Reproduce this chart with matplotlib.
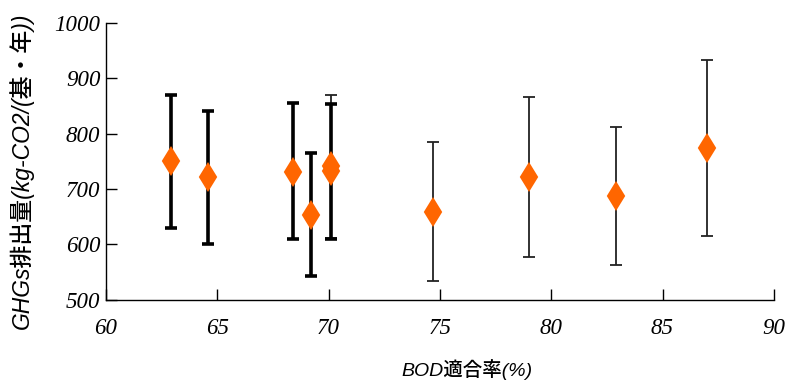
import matplotlib.pyplot as plt
import numpy as np

# BOD適合率(%) と GHGs排出量 (平均, 下限, 上限)
# 太い誤差棒の系列
bod_a = [62.9, 64.6, 68.4, 69.2, 70.1]
ghg_a = [750, 722, 731, 654, 733]
low_a = [630, 601, 610, 543, 610]
high_a = [871, 842, 856, 766, 853]

# 細い誤差棒の系列
bod_b = [70.1, 74.7, 79.0, 82.9, 87.0]
ghg_b = [742, 658, 721, 688, 775]
low_b = [612, 533, 577, 562, 615]
high_b = [871, 785, 866, 813, 933]

x_ticks = [60, 65, 70, 75, 80, 85, 90]
y_ticks = [500, 600, 700, 800, 900, 1000]

label_font = ["Liberation Sans", "Noto Sans CJK JP"]
tick_font = "Liberation Serif"

fig = plt.figure(figsize=(7.88, 3.83), dpi=100)
ax = fig.add_axes([0.1345, 0.2175, 0.8475, 0.722])


def _yerr(mean, low, high):
    mean = np.array(mean)
    return [mean - np.array(low), np.array(high) - mean]


ax.errorbar(bod_b, ghg_b, yerr=_yerr(ghg_b, low_b, high_b), fmt="none",
            ecolor="#222222", elinewidth=1.3, capsize=4, capthick=1.3, zorder=2)
ax.errorbar(bod_a, ghg_a, yerr=_yerr(ghg_a, low_a, high_a), fmt="none",
            ecolor="black", elinewidth=2.6, capsize=4.5, capthick=2.6, zorder=2)
ax.plot(bod_a + bod_b, ghg_a + ghg_b, linestyle="none", marker="d",
        markersize=13.5, markeredgewidth=1.5, color="#FF6600", zorder=3)

ax.set_xlim(60, 90)
ax.set_ylim(500, 1000)
ax.set_xticks(x_ticks)
ax.set_yticks(y_ticks)
ax.tick_params(axis="both", direction="in", length=8, width=1)
ax.tick_params(axis="x", pad=13)
ax.tick_params(axis="y", pad=4)
for lab in ax.get_xticklabels() + ax.get_yticklabels():
    lab.set_fontfamily(tick_font)
    lab.set_fontstyle("italic")
    lab.set_fontsize(16.5)

for side in ("top", "right"):
    ax.spines[side].set_visible(False)
for side in ("left", "bottom"):
    ax.spines[side].set_linewidth(1)

ax.set_xlabel("BOD適合率(%)", family=label_font, style="italic",
              fontsize=14, fontweight="medium")
ax.xaxis.set_label_coords(0.54, -0.215)
ax.set_ylabel("GHGs排出量(kg-CO2/(基・年))", family=label_font, style="italic",
              fontsize=16.5, fontweight="medium")
ax.yaxis.set_label_coords(-0.108, 0.467)

fig.savefig("out.png", dpi=100)
